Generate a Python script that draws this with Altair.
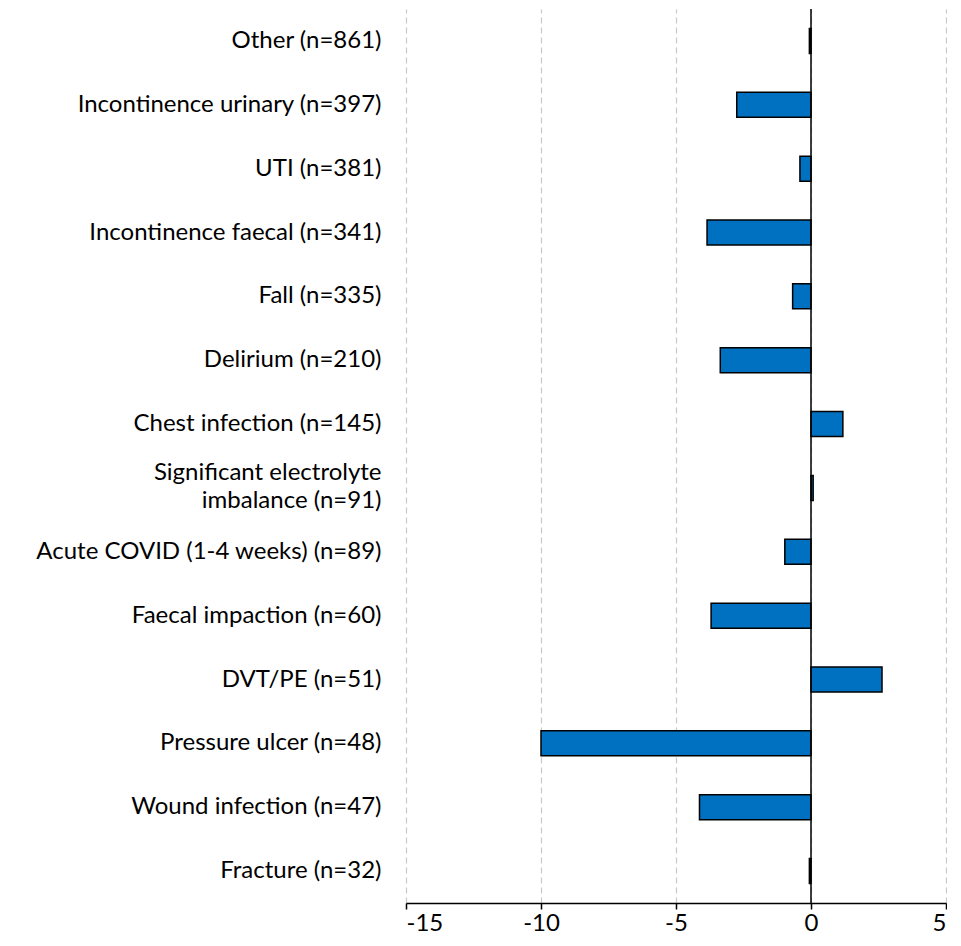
import altair as alt
import pandas as pd

categories = [
    "Other (n=861)",
    "Incontinence urinary (n=397)",
    "UTI (n=381)",
    "Incontinence faecal (n=341)",
    "Fall (n=335)",
    "Delirium (n=210)",
    "Chest infection (n=145)",
    "Significant electrolyte|imbalance (n=91)",
    "Acute COVID (1-4 weeks) (n=89)",
    "Faecal impaction (n=60)",
    "DVT/PE (n=51)",
    "Pressure ulcer (n=48)",
    "Wound infection (n=47)",
    "Fracture (n=32)",
]
values = [-0.06, -2.75, -0.41, -3.85, -0.68, -3.36, 1.18, 0.08, -0.97, -3.7, 2.63, -10.0, -4.13, -0.06]
x_ticks = [-15, -10, -5, 0, 5]

df = pd.DataFrame({"cat": categories, "val": values})
FONT = "Lato"
FS = 24

bars = alt.Chart(df).mark_bar(
    color="#0070C0", stroke="black", strokeWidth=1.5, size=25
).encode(
    x=alt.X("val:Q", scale=alt.Scale(domain=[-15, 5], nice=False, zero=True),
            axis=alt.Axis(values=x_ticks, title=None, grid=True, gridDash=[6, 4],
                          gridColor="#c8c8c8", gridWidth=1.2, domainColor="black",
                          domainWidth=1.5, tickColor="black", tickWidth=1.5, tickSize=6,
                          labelFontSize=FS, labelColor="black", labelFont=FONT,
                          labelPadding=2, labelExpr="toString(datum.value)")),
    y=alt.Y("cat:N", sort=categories, title=None,
            axis=alt.Axis(domain=False, ticks=False, labelPadding=25, labelFontSize=FS,
                          labelColor="black", labelFont=FONT, labelLimit=0,
                          labelLineHeight=28,
                          labelOffset={"condition": {"test": "indexof(datum.value, '|') >= 0",
                                                     "value": -15}, "value": 0},
                          labelExpr="split(datum.label, '|')")),
)

zero = alt.Chart(pd.DataFrame({"z": [0]})).mark_rule(color="black", strokeWidth=1.5).encode(
    x=alt.X("z:Q")
)

chart = alt.layer(bars, zero).properties(
    width=540, height=894,
    padding={"left": 27, "top": 0, "right": 0, "bottom": 5},
).configure_view(stroke=None)

chart.save("out.html", embed_options={"renderer": "svg", "actions": False})
